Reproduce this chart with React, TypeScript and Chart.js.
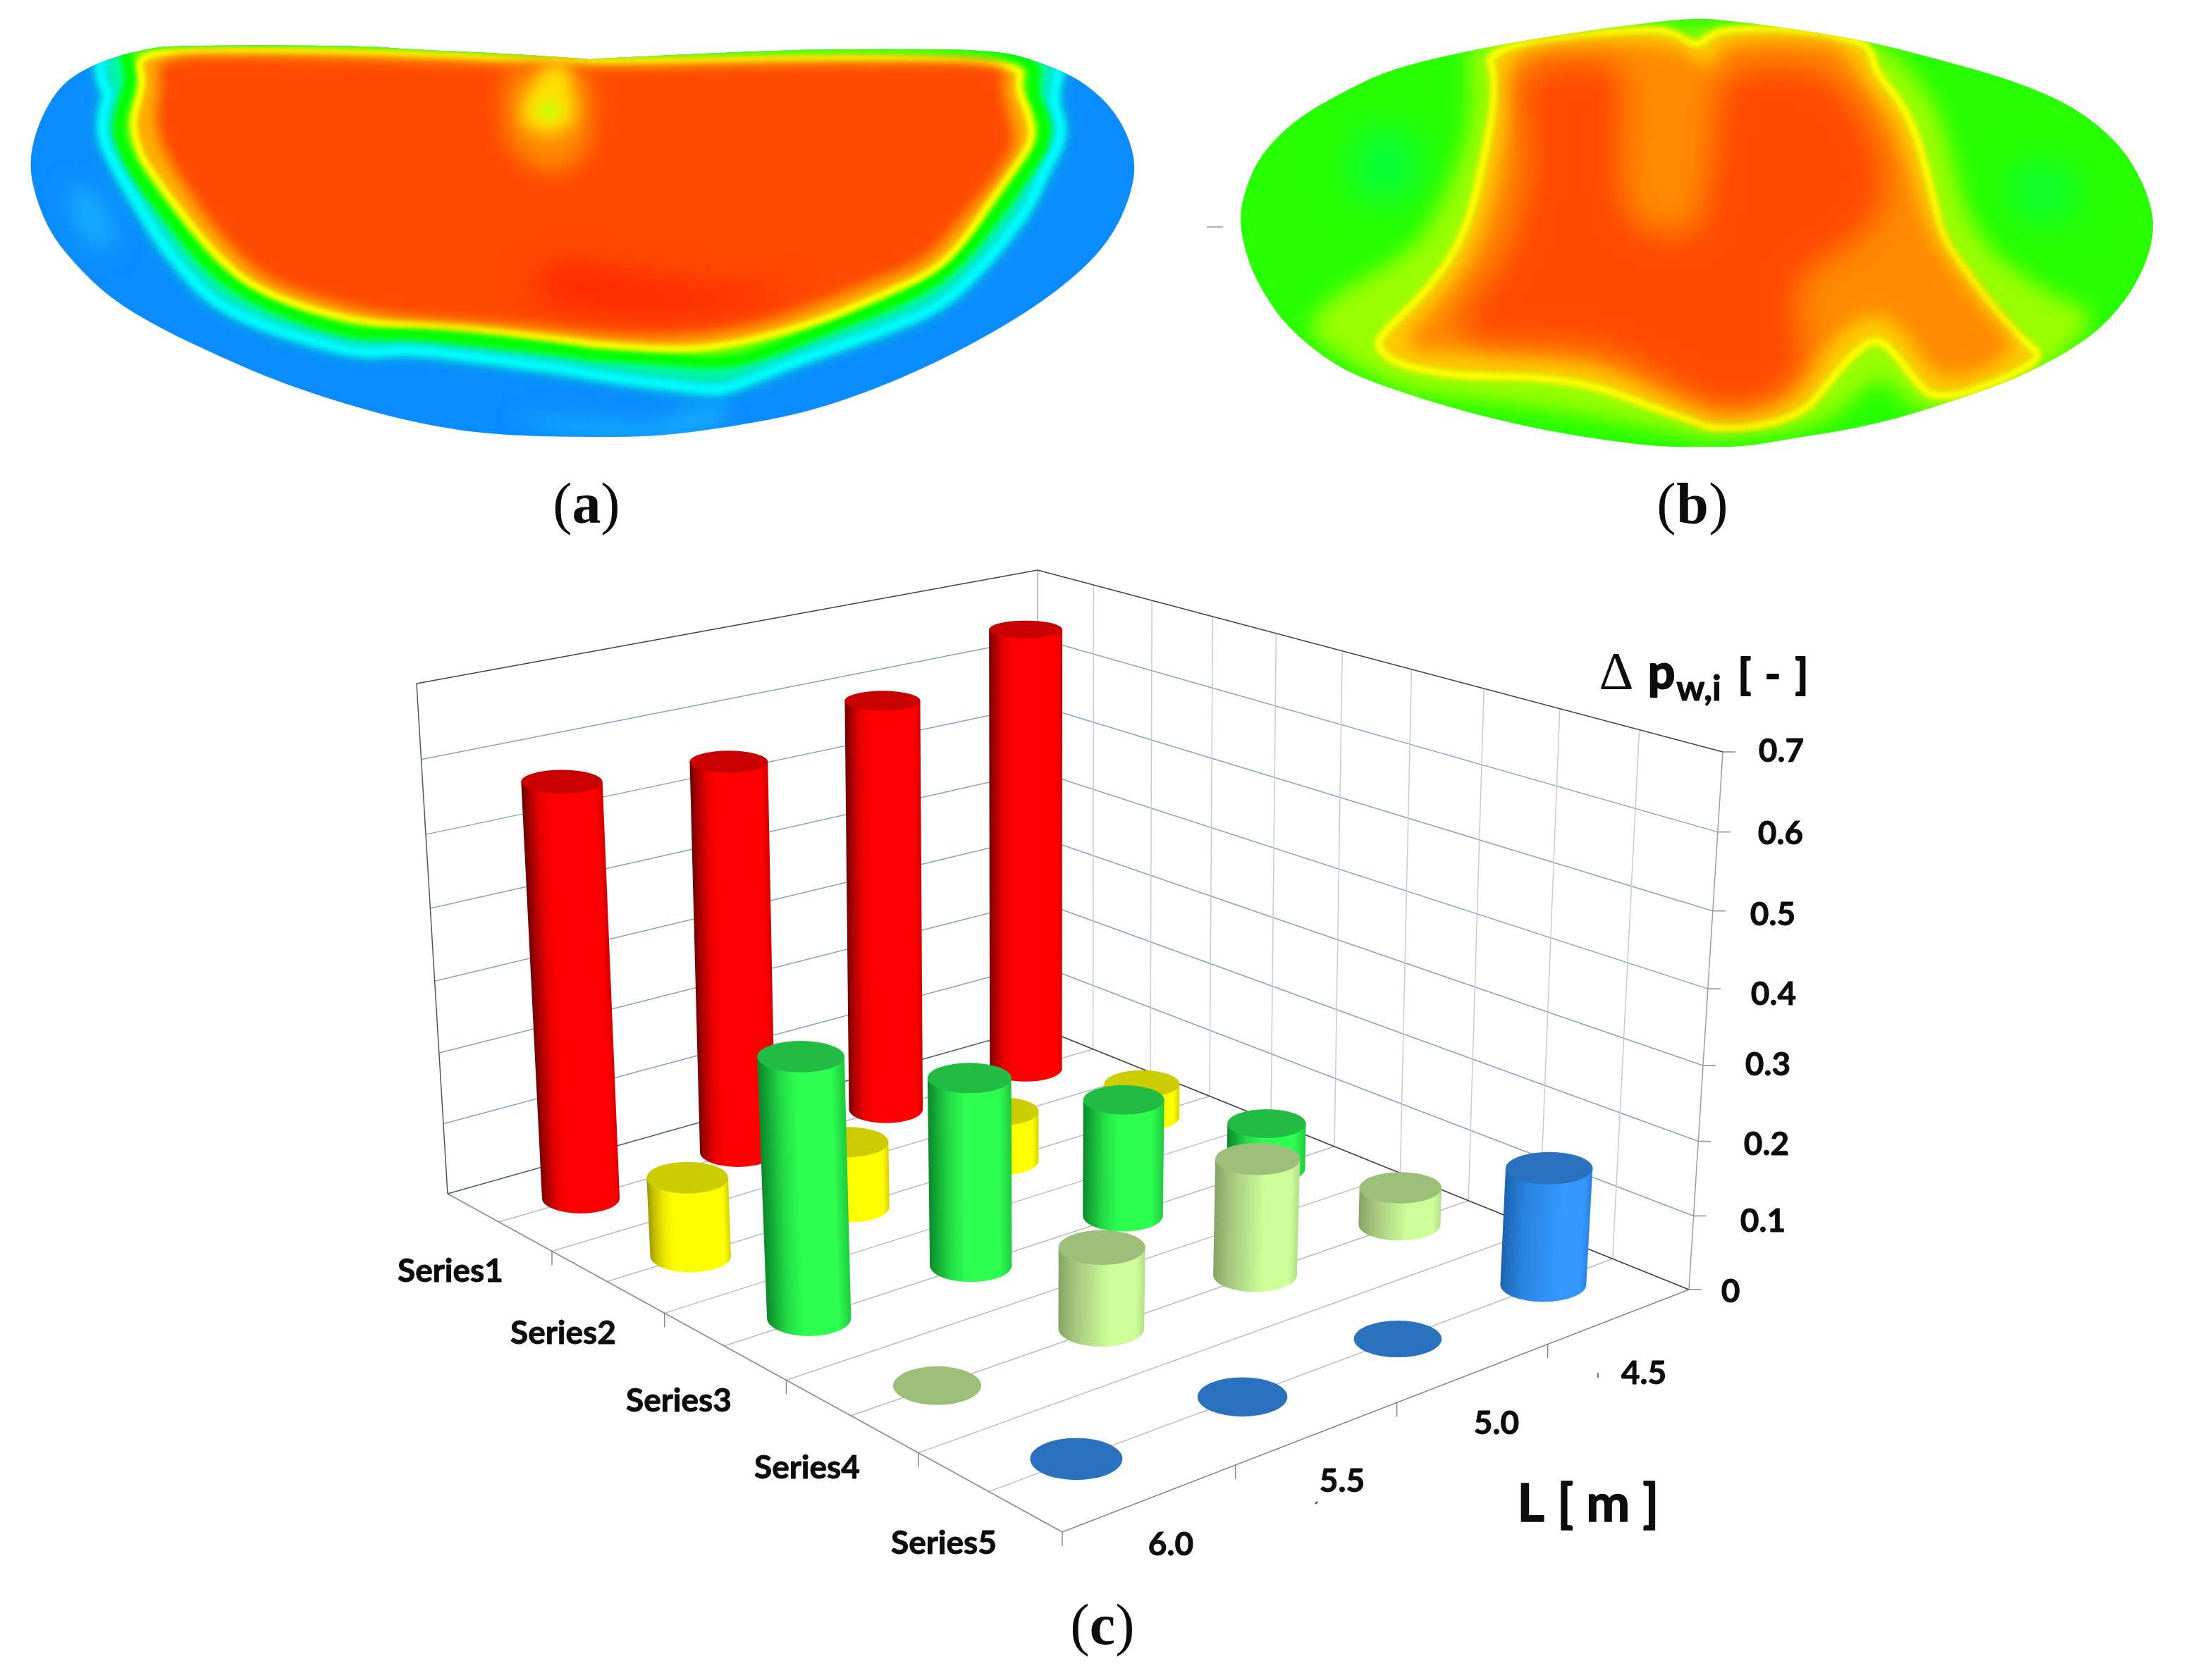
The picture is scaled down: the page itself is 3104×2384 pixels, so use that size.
import React, { useEffect, useRef } from "react";
import { Chart, registerables } from "chart.js";

Chart.register(...registerables);

// ---------- Values ----------
const seriesLabels = ["Series1", "Series2", "Series3", "Series4", "Series5"];
const lengthLabels = ["6.0", "5.5", "5.0", "4.5"];
const valueTicks = ["0", "0.1", "0.2", "0.3", "0.4", "0.5", "0.6", "0.7"];
const series1 = [0.575, 0.555, 0.595, 0.655];
const series2 = [0.108, 0.092, 0.072, 0.05];
const series3 = [0.345, 0.255, 0.163, 0.066];
const series4 = [0, 0.108, 0.158, 0.052];
const series5 = [0, 0, 0, 0.158];

type P = number[];
const aOutlineL: P[] = [[280,100],[200,140],[130,200],[80,300],[45,430],[45,550],[90,720],[160,840],[260,970],[400,1080],[560,1180],[720,1270],[900,1350],[1100,1420],[1300,1460],[1568,1468]];
const aOutlineR: P[] = [[200,1465],[400,1430],[600,1380],[800,1290],[1000,1170],[1200,1020],[1350,870],[1440,730],[1490,560],[1490,440],[1440,300],[1360,200],[1280,145],[1180,100],[1120,85],[1000,75],[645,75],[425,85],[220,97],[0,112]];
const aOutlineL2: P[] = [[1568,112],[1410,97],[1232,85],[1090,77],[930,62],[420,62],[350,78]];
const aCyanL: P[] = [[235,100],[235,190],[260,230],[240,310],[240,400],[290,530],[340,640],[400,770],[460,870],[540,980],[660,1060],[800,1120],[950,1170],[1060,1150],[1250,1180],[1420,1210],[1568,1240]];
const aCyanR: P[] = [[0,1240],[280,1290],[370,1300],[450,1260],[600,1180],[800,1090],[960,1000],[1060,880],[1130,770],[1200,650],[1250,500],[1300,380],[1265,250],[1290,150],[1290,20],[0,20]];
const aCyanL2: P[] = [[235,20]];
const aGreenL: P[] = [[300,90],[320,190],[290,290],[280,380],[320,500],[380,610],[440,710],[510,830],[600,930],[720,1010],[850,1070],[950,1100],[1070,1095],[1250,1120],[1400,1140],[1568,1170]];
const aGreenR: P[] = [[0,1170],[230,1190],[380,1205],[500,1160],[650,1080],[830,990],[960,900],[1030,810],[1110,680],[1190,530],[1245,420],[1250,330],[1210,230],[1230,110],[1000,40],[0,40]];
const aGreenL2: P[] = [[300,40]];
const aYellowL: P[] = [[335,110],[350,190],[335,270],[320,340],[340,450],[380,530],[440,640],[500,740],[560,830],[640,920],[760,990],[900,1040],[1000,1060],[1100,1060],[1250,1075],[1400,1100],[1568,1130]];
const aYellowR: P[] = [[0,1130],[200,1150],[320,1150],[450,1120],[640,1050],[800,960],[950,870],[1030,760],[1100,620],[1170,490],[1215,400],[1205,310],[1170,210],[1190,130],[800,105],[400,115],[100,120]];
const aYellowL2: P[] = [[1450,120],[1100,95],[700,80],[400,85]];
const aOrangeL: P[] = [[380,100],[400,220],[380,300],[400,430],[460,560],[520,680],[590,790],[680,900],[820,970],[1000,1030],[1200,1050],[1400,1070],[1568,1090]];
const aOrangeR: P[] = [[0,1090],[200,1110],[430,1080],[620,1000],[760,920],[920,840],[1000,720],[1100,560],[1170,420],[1160,340],[1130,220],[1150,120],[800,125],[400,130],[100,140]];
const aOrangeL2: P[] = [[1450,135],[1100,115],[700,100]];
const aHotL: P[] = [[1380,900],[1500,830],[1568,850]];
const aHotR: P[] = [[100,870],[350,930],[600,930],[450,1000],[200,1050],[0,1020]];
const aHotL2: P[] = [[1450,1000]];
const aSpotHalo: P[] = [[1340,130],[1560,130],[1570,300],[1560,430],[1500,520],[1400,500],[1330,400],[1330,250]];
const aSpotYellow: P[] = [[1440,130],[1510,130],[1510,220],[1530,300],[1500,370],[1440,385],[1380,350],[1370,290],[1400,220]];
const aSpotCore: P[] = [[1450,250],[1490,295],[1450,340],[1410,295]];
const aPaleLeft: P[] = [[130,560],[220,560],[290,800],[200,800]];
const aPaleRight: P[] = [[1330,620],[1440,540],[1460,640],[1360,760]];
const aPaleBottomL: P[] = [[1300,1380],[1568,1400]];
const aPaleBottomR: P[] = [[200,1420],[300,1340],[420,1360],[330,1470],[0,1480]];

const bOutlineL: P[] = [[40,720],[60,610],[110,490],[220,370],[380,270],[540,190],[800,125],[1100,70],[1450,20],[1568,15]];
const bOutlineR: P[] = [[100,22],[230,35],[560,90],[800,155],[1050,230],[1250,320],[1400,450],[1480,590],[1515,720],[1495,850],[1420,1000],[1300,1130],[1100,1250],[900,1330],[600,1430],[300,1480],[170,1505],[0,1505]];
const bOutlineL2: P[] = [[1568,1505],[1400,1505],[1100,1460],[800,1390],[500,1290],[350,1220],[200,1090],[120,970],[70,860]];
const bSpringL: P[] = [[480,380],[620,430],[640,560],[560,660],[430,640],[400,500]];
const bSpringR: P[] = [[1100,500],[1250,560],[1260,680],[1130,720],[1030,640]];
const bLimeL: P[] = [[800,100],[790,130],[800,300],[780,450],[720,620],[640,780],[520,880],[370,960],[250,1090],[340,1170],[560,1310],[800,1340],[1100,1380],[1400,1440],[1568,1480]];
const bLimeR: P[] = [[0,1480],[300,1460],[420,1420],[500,1370],[580,1280],[640,1270],[700,1350],[800,1400],[1100,1300],[1350,1050],[1180,980],[1040,880],[950,790],[880,640],[840,430],[780,280],[690,170],[640,110],[300,40],[100,40],[50,40],[0,70]];
const bLimeL2: P[] = [[1460,30],[1100,50]];
const bYellowL: P[] = [[850,130],[880,220],[870,350],[840,510],[800,700],[730,860],[620,1000],[510,1110],[490,1160],[560,1220],[760,1260],[1000,1260],[1200,1290],[1350,1350],[1568,1430]];
const bYellowR: P[] = [[50,1435],[150,1440],[280,1420],[380,1370],[440,1290],[520,1190],[590,1130],[640,1150],[700,1230],[760,1310],[800,1330],[900,1320],[1100,1230],[1140,1180],[1100,1150],[1000,1040],[900,900],[820,780],[790,640],[740,430],[680,300],[600,200],[590,140],[560,95],[300,50],[100,55],[60,75],[15,115]];
const bYellowL2: P[] = [[1470,70],[1400,50],[1100,80]];
const bOrangeL: P[] = [[920,150],[930,350],[900,500],[860,700],[790,880],[680,1020],[580,1130],[620,1180],[800,1170],[1000,1180],[1250,1220],[1400,1300],[1568,1360]];
const bOrangeR: P[] = [[50,1370],[150,1380],[280,1350],[360,1270],[440,1160],[530,1070],[600,1040],[680,1080],[740,1170],[800,1260],[900,1260],[1020,1200],[1060,1150],[960,1030],[850,880],[780,760],[730,600],[670,400],[600,300],[530,180],[480,100],[300,90],[110,100],[80,140],[60,200]];
const bOrangeL2: P[] = [[1540,160],[1450,100],[1100,110]];
const bRedL: P[] = [[960,200],[1100,160],[1290,170],[1300,290],[1290,420],[1290,620],[1340,740],[1450,770],[1560,740]];
const bRedR: P[] = [[30,700],[70,500],[80,300],[110,190],[400,170],[540,300],[620,480],[640,640],[560,770],[420,860],[340,940],[340,1060],[380,1200],[300,1330],[150,1370],[50,1360]];
const bRedL2: P[] = [[1400,1250],[1250,1170],[1100,1150],[850,1150],[730,1090],[800,1000],[900,860],[960,700],[990,500],[970,350]];

// ---------- Crop frames the contours were read in ----------
const aLeft = (p: P) => ({ x: 20 + (p[0] * 820) / 1568, y: 40 + (p[1] * 620) / 1568 });
const aRight = (p: P) => ({ x: 830 + (p[0] * 820) / 1568, y: 40 + (p[1] * 620) / 1568 });
const bLeft = (p: P) => ({ x: 1740 + (p[0] * 680) / 1568, y: 20 + (p[1] * 640) / 1568 });
const bRight = (p: P) => ({ x: 2400 + (p[0] * 680) / 1568, y: 20 + (p[1] * 640) / 1568 });
const aPoly = (l: P[], r: P[] = [], l2: P[] = []) => [...l.map(aLeft), ...r.map(aRight), ...l2.map(aLeft)];
const bPoly = (l: P[], r: P[] = [], l2: P[] = []) => [...l.map(bLeft), ...r.map(bRight), ...l2.map(bLeft)];

// ---------- Projection of the 3D box ----------
const floorCorners = { left: [635, 1694], front: [1507, 2174], right: [2396, 1830], back: [1472, 1457] };
const topCorners = { left: [591, 970], front: [1511, 1334], right: [2444, 1067], back: [1472, 809] };
const VMAX = 0.7;
function homography(c: any) {
  const [x0, y0] = c.left, [x1, y1] = c.front, [x2, y2] = c.right, [x3, y3] = c.back;
  const dx1 = x1 - x2, dx2 = x3 - x2, sx = x0 - x1 + x2 - x3;
  const dy1 = y1 - y2, dy2 = y3 - y2, sy = y0 - y1 + y2 - y3;
  const den = dx1 * dy2 - dx2 * dy1;
  const g = (sx * dy2 - dx2 * sy) / den, h = (dx1 * sy - sx * dy1) / den;
  const a = x1 - x0 + g * x1, b = x3 - x0 + h * x3, d = y1 - y0 + g * y1, e = y3 - y0 + h * y3;
  return (u: number, w: number) => {
    const q = g * u + h * w + 1;
    return [(a * u + b * w + x0) / q, (d * u + e * w + y0) / q];
  };
}
const floorH = homography(floorCorners);
const topH = homography(topCorners);
function project(s: number, l: number, v: number) {
  const u = s / 5, w = l / 4;
  const t0 = v / VMAX;
  const t = t0 / (1.05 - 0.05 * t0);
  const b = floorH(u, w), a = topH(u, w);
  return { x: b[0] + (a[0] - b[0]) * t, y: b[1] + (a[1] - b[1]) * t };
}

// ---------- Dataset helpers ----------
const region = (panel: string, data: any[], fill: string, blur: number, ridge?: string, ridgeWidth?: number, ridgeBlur?: number) => ({
  type: "scatter", label: panel, data, showLine: false, pointRadius: 0, heat: { panel, fill, blur, ridge, ridgeWidth, ridgeBlur },
});
const gridLine = (data: any[], color: string, width = 1.5) => ({
  type: "scatter", data, showLine: true, fill: false, borderColor: color, borderWidth: width, pointRadius: 0, tension: 0,
});

const gridDatasets = () => {
  const out: any[] = [];
  const wall = "#8ba2c2";
  valueTicks.forEach((_, i) => {
    const v = i / 10;
    if (i > 0 && i < 7) {
      out.push(gridLine([project(0, 0, v), project(0, 4, v)], wall));
      out.push(gridLine([project(0, 4, v), project(5, 4, v)], wall));
    }
    const e = project(5, 4, v);
    out.push(gridLine([e, { x: e.x + 18, y: e.y }], "#8a8a8a"));
  });
  for (let k = 1; k < 10; k++) {
    out.push(gridLine([project(k / 2, 4, 0), project(k / 2, 4, VMAX)], "#c6ccd6"));
    out.push(gridLine([project(k / 2, 0, 0), project(k / 2, 4, 0)], "#bcbcbc"));
  }
  for (let k = 1; k <= 5; k++) {
    const p = project(k, 0, 0);
    out.push(gridLine([p, { x: p.x, y: p.y + 20 }], "#888888"));
  }
  for (let k = 1; k < 4; k++) {
    const p = project(5, k, 0);
    out.push(gridLine([p, { x: p.x, y: p.y + 20 }], "#888888"));
  }
  const c = (s: number, l: number, v: number) => project(s, l, v);
  out.push(gridLine([c(0, 0, 0), c(5, 0, 0)], "#8a8a8a"));
  out.push(gridLine([c(5, 0, 0), c(5, 4, 0)], "#8a8a8a"));
  out.push(gridLine([c(0, 0, 0), c(0, 4, 0)], "#4c5a72"));
  out.push(gridLine([c(0, 4, 0), c(5, 4, 0)], "#3c3c3c"));
  out.push(gridLine([c(0, 4, 0), c(0, 4, VMAX)], "#a8acb4"));
  out.push(gridLine([c(5, 4, 0), c(5, 4, VMAX)], "#9a9ea6"));
  out.push(gridLine([c(0, 0, 0), c(0, 0, VMAX)], "#555555"));
  out.push(gridLine([c(0, 0, VMAX), c(0, 4, VMAX)], "#444444"));
  out.push(gridLine([c(0, 4, VMAX), c(5, 4, VMAX)], "#444444"));
  return out;
};

const barStyles = [
  { top: "#c80000", stops: [[0, "#780000"], [0.08, "#b00000"], [0.2, "#e80000"], [0.33, "#ff0000"], [0.92, "#ff0000"], [1, "#d80000"]] },
  { top: "#cccc00", stops: [[0, "#a09a00"], [0.08, "#c8c400"], [0.2, "#f0ee00"], [0.32, "#ffff00"], [0.92, "#ffff00"], [1, "#d8d400"]] },
  { top: "#22bb44", stops: [[0, "#0c8a2c"], [0.1, "#14ac36"], [0.25, "#22dc46"], [0.45, "#2dff50"], [0.85, "#2dff50"], [1, "#20cc40"]] },
  { top: "#9dbf7a", stops: [[0, "#86a464"], [0.2, "#a6c87e"], [0.6, "#ccff99"], [0.9, "#ccff99"], [1, "#b4e088"]] },
  { top: "#2a72c0", stops: [[0, "#1c64b4"], [0.25, "#2a84e0"], [0.7, "#3399ff"], [0.92, "#3399ff"], [1, "#2a84e0"]] },
];

const RS = 0.225, RL = 0.19;
const seriesPos = [[639, 1803], [799, 1891], [963, 1987], [1145, 2082], [1339, 2189]];
const lengthPos = [[1661, 2191], [1904, 2101], [2123, 2019], [2332, 1948]];
const valuePos = [[2455, 1832], [2501, 1732], [2506, 1623], [2508, 1510], [2516, 1410], [2515, 1297], [2526, 1182], [2527, 1065]];

const drawPlugin = {
  id: "crossSectionsAndCylinders",
  afterDatasetsDraw(chart: any) {
    const ctx: CanvasRenderingContext2D = chart.ctx;
    const xs = chart.scales.x, ys = chart.scales.y;
    const px = (p: any) => ({ x: xs.getPixelForValue(p.x), y: ys.getPixelForValue(p.y) });

    const smooth = (pts: any[]) => {
      const n = pts.length;
      const path = new Path2D();
      const mid = (a: any, b: any) => ({ x: (a.x + b.x) / 2, y: (a.y + b.y) / 2 });
      const m0 = mid(pts[n - 1], pts[0]);
      path.moveTo(m0.x, m0.y);
      for (let i = 0; i < n; i++) {
        const m = mid(pts[i], pts[(i + 1) % n]);
        path.quadraticCurveTo(pts[i].x, pts[i].y, m.x, m.y);
      }
      path.closePath();
      return path;
    };

    // cross-section maps: every region is a dataset placed by the chart's scales
    const outlines: Record<string, Path2D> = {};
    chart.data.datasets.forEach((ds: any, i: number) => {
      if (!ds.heat) return;
      const pts = chart.getDatasetMeta(i).data.map((e: any) => ({ x: e.x, y: e.y }));
      const path = smooth(pts);
      if (!outlines[ds.heat.panel]) {
        outlines[ds.heat.panel] = path;
        ctx.save();
        ctx.fillStyle = ds.heat.fill;
        ctx.fill(path);
        ctx.restore();
        return;
      }
      ctx.save();
      ctx.clip(outlines[ds.heat.panel]);
      ctx.filter = `blur(${ds.heat.blur}px)`;
      ctx.fillStyle = ds.heat.fill;
      ctx.fill(path);
      if (ds.heat.ridge) {
        ctx.filter = `blur(${ds.heat.ridgeBlur}px)`;
        ctx.strokeStyle = ds.heat.ridge;
        ctx.lineWidth = ds.heat.ridgeWidth;
        ctx.stroke(path);
      }
      ctx.restore();
    });

    // cylinders, back to front
    const N = 48;
    const shape = (s: number, l: number, v: number) => {
      let a = Infinity, b = -Infinity, c = Infinity, d = -Infinity;
      for (let i = 0; i < N; i++) {
        const t = (i / N) * Math.PI * 2;
        const p = px(project(s + RS * Math.cos(t), l + RL * Math.sin(t), v));
        a = Math.min(a, p.x); b = Math.max(b, p.x); c = Math.min(c, p.y); d = Math.max(d, p.y);
      }
      const m = px(project(s, l, v));
      return { x: m.x, y: m.y, rx: (b - a) / 2, ry: (d - c) / 2 };
    };
    const allSeries = chart.data.datasets.filter((d: any) => d.barIndex !== undefined);
    allSeries.forEach((ds: any) => {
      const st = barStyles[ds.barIndex];
      for (let j = ds.values.length - 1; j >= 0; j--) {
        const v = ds.values[j];
        const s = ds.barIndex + 0.5, l = j + 0.5;
        const top = shape(s, l, v);
        if (v > 0) {
          const base = shape(s, l, 0);
          const body = new Path2D();
          body.moveTo(top.x - top.rx, top.y);
          body.lineTo(base.x - base.rx, base.y);
          body.ellipse(base.x, base.y, base.rx, base.ry, 0, Math.PI, 0, true);
          body.lineTo(top.x + top.rx, top.y);
          body.closePath();
          const k = (top.x - base.x) / (top.y - base.y);
          ctx.save();
          ctx.clip(body);
          ctx.transform(1, 0, k, 1, -k * base.y, 0);
          const g = ctx.createLinearGradient(base.x - base.rx, 0, base.x + base.rx, 0);
          st.stops.forEach((q: any) => g.addColorStop(q[0], q[1]));
          ctx.fillStyle = g;
          ctx.fillRect(-500, -500, 4200, 3400);
          ctx.restore();
        }
        ctx.beginPath();
        ctx.ellipse(top.x, top.y, top.rx, top.ry, 0, 0, Math.PI * 2);
        ctx.fillStyle = st.top;
        ctx.fill();
      }
    });

    // text
    const text = (t: string, x: number, y: number, font: string, bold = 0) => {
      ctx.font = font;
      ctx.textAlign = "center";
      ctx.textBaseline = "alphabetic";
      ctx.fillStyle = "#0c0c0c";
      ctx.fillText(t, x, y);
      if (bold) {
        ctx.strokeStyle = "#0c0c0c";
        ctx.lineWidth = bold;
        ctx.lineJoin = "round";
        ctx.strokeText(t, x, y);
      }
    };
    const lab = "700 46px Lato";
    seriesLabels.forEach((t, i) => text(t, seriesPos[i][0], seriesPos[i][1] + 16, lab, 0.9));
    lengthLabels.forEach((t, i) => text(t, lengthPos[i][0], lengthPos[i][1] + 16, lab, 0.9));
    valueTicks.forEach((t, i) => text(t, valuePos[i][0], valuePos[i][1] + 16, lab, 0.9));
    text("L [ m ]", 2253, 2159, "700 74px Lato", 1.6);
    text("\u0394", 2293, 978, '400 76px "Liberation Serif"');
    text("p", 2357, 977, "700 68px Lato", 2.2);
    text("w,i", 2410, 994, "700 50px Lato", 1.2);
    text("[", 2475, 978, "700 60px Lato", 2);
    text("-", 2515, 978, "700 60px Lato", 2);
    text("]", 2556, 978, "700 60px Lato", 2);
    const sf = '400 82px "Liberation Serif"', sb = '700 82px "Liberation Serif"';
    const captions: any[] = [["a", 832, 742, 34], ["b", 2401, 742, 37], ["c", 1564, 2333, 32]];
    captions.forEach((q) => {
      text("(", q[1] - q[3], q[2], sf);
      text(q[0], q[1], q[2], sb);
      text(")", q[1] + q[3], q[2], sf);
    });
  },
};

export default function App() {
  const ref = useRef<HTMLCanvasElement>(null);
  useEffect(() => {
    const orange = "#ff4a00";
    const datasets: any[] = [
      region("a", aPoly(aOutlineL, aOutlineR, aOutlineL2), "#0a8cff", 0),
      region("a", aPoly(aPaleLeft), "#18b0ff", 18),
      region("a", aPoly(aPaleRight), "#18b0ff", 18),
      region("a", aPoly(aPaleBottomL, aPaleBottomR), "#14a8ff", 14),
      region("a", aPoly(aCyanL, aCyanR, aCyanL2), "#00ffa0", 14, "#00ffff", 15, 5),
      region("a", aPoly(aGreenL, aGreenR, aGreenL2), "#60ff00", 6, "#00ff00", 16, 4),
      region("a", aPoly(aYellowL, aYellowR, aYellowL2), "#ffb000", 5, "#ffff00", 10, 3),
      region("a", aPoly(aOrangeL, aOrangeR, aOrangeL2), orange, 9),
      region("a", aPoly(aHotL, aHotR, aHotL2), "#ff2a00", 22),
      region("a", aPoly(aSpotHalo), "#ff8c00", 16),
      region("a", aPoly(aSpotYellow), "#ffe000", 11),
      region("a", aPoly(aSpotCore), "#c4ff00", 8),
      region("b", bPoly(bOutlineL, bOutlineR, bOutlineL2), "#28ff00", 0),
      region("b", bPoly(bSpringL), "#00ff44", 30),
      region("b", bSpringR.map(bRight), "#00ff44", 30),
      region("b", bPoly(bLimeL, bLimeR, bLimeL2), "#98ff00", 14),
      region("b", bPoly(bYellowL, bYellowR, bYellowL2), "#ffcc00", 8, "#ffff00", 10, 3),
      region("b", bPoly(bOrangeL, bOrangeR, bOrangeL2), "#ff8a00", 13),
      region("b", bPoly(bRedL, bRedR, bRedL2), orange, 22),
      ...gridDatasets(),
      gridLine([{ x: 1712, y: 322 }, { x: 1735, y: 322 }], "#999999"),
      gridLine([{ x: 2267, y: 1948 }, { x: 2267, y: 1955 }], "#555555"),
      gridLine([{ x: 1866, y: 2134 }, { x: 1869, y: 2131 }], "#333333", 2),
      ...[series1, series2, series3, series4, series5].map((values, barIndex) => ({
        type: "scatter", label: seriesLabels[barIndex], barIndex, values, showLine: false, pointRadius: 0,
        data: values.map((v, j) => project(barIndex + 0.5, j + 0.5, v)),
      })),
    ];
    datasets.forEach((d, i) => (d.order = -i));
    const chart = new Chart(ref.current as HTMLCanvasElement, {
      type: "scatter",
      data: { datasets },
      options: {
        animation: false,
        responsive: false,
        maintainAspectRatio: false,
        devicePixelRatio: 1,
        layout: { padding: 0 },
        plugins: { legend: { display: false }, tooltip: { enabled: false }, title: { display: false } },
        scales: {
          x: { type: "linear", min: 0, max: 3104, display: false },
          y: { type: "linear", min: 0, max: 2384, reverse: true, display: false },
        },
      } as any,
      plugins: [drawPlugin],
    } as any);
    return () => chart.destroy();
  }, []);
  return (
    <div style={{ position: "absolute", left: 0, top: 0, width: 3104, height: 2384, background: "#fff" }}>
      <canvas ref={ref} width={3104} height={2384} style={{ display: "block" }} />
    </div>
  );
}
